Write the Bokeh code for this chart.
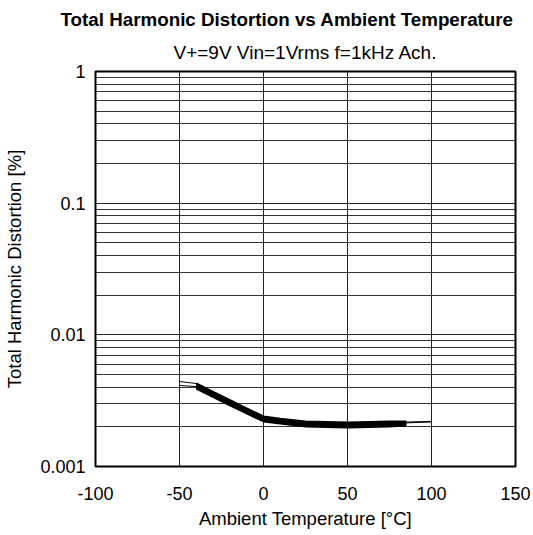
from bokeh.plotting import figure
from bokeh.models import Range1d, FixedTicker, CustomJSTickFormatter, Title
from bokeh.embed import file_html
from bokeh.resources import INLINE

# ---- data ----
title_text = "Total Harmonic Distortion vs Ambient Temperature"
subtitle_text = "V+=9V Vin=1Vrms f=1kHz Ach."
x_label = "Ambient Temperature [°C]"
y_label = "Total Harmonic Distortion [%]"

x_ticks = [-100, -50, 0, 50, 100, 150]
x_tick_labels = ["-100", "-50", "0", "50", "100", "150"]
y_ticks = [0.001, 0.01, 0.1, 1]
y_tick_labels = ["0.001", "0.01", "0.1", "1"]
y_minor = [2e-3, 3e-3, 4e-3, 5e-3, 6e-3, 7e-3, 8e-3, 9e-3,
           2e-2, 3e-2, 4e-2, 5e-2, 6e-2, 7e-2, 8e-2, 9e-2,
           0.2, 0.3, 0.4, 0.5, 0.6, 0.7, 0.8, 0.9]

# long samples (-50 .. 100 °C)
temp_long = [-50, -40, -20, 0, 25, 50, 75, 100]
thd_long_1 = [0.00442, 0.00427, 0.00323, 0.00236, 0.00216, 0.00212, 0.00216, 0.00220]
thd_long_2 = [0.00412, 0.00405, 0.00301, 0.00227, 0.00212, 0.00208, 0.00212, 0.00218]

# short samples (-40 .. 85 °C)
temp_short = [-40, -20, 0, 10, 25, 50, 75, 85]
thd_short_1 = [0.00427, 0.00317, 0.00240, 0.00231, 0.00220, 0.00216, 0.00220, 0.00220]
thd_short_2 = [0.00419, 0.00312, 0.00236, 0.00227, 0.00216, 0.00212, 0.00216, 0.00216]
thd_short_3 = [0.00412, 0.00306, 0.00231, 0.00224, 0.00212, 0.00208, 0.00212, 0.00212]
thd_short_4 = [0.00405, 0.00301, 0.00227, 0.00220, 0.00208, 0.00205, 0.00208, 0.00212]
thd_short_5 = [0.00398, 0.00296, 0.00224, 0.00216, 0.00205, 0.00201, 0.00205, 0.00208]
thd_short_6 = [0.00391, 0.00291, 0.00220, 0.00212, 0.00201, 0.00198, 0.00201, 0.00205]

FONT = "Liberation Sans"

p = figure(width=533, height=535, y_axis_type="log",
           x_range=Range1d(-100, 150), y_range=Range1d(0.001, 1),
           output_backend="svg", toolbar_location=None,
           min_border_left=95, min_border_right=18,
           min_border_top=71, min_border_bottom=69)

# main title = figure title (outer), subtitle added (closer to the frame)
p.title.text = title_text
p.title.align = "left"
p.title.offset = -35
p.title.text_font = FONT
p.title.text_font_size = "18.8px"
p.title.text_font_style = "bold"
p.title.text_color = "black"
p.title.standoff = 1
subtitle = Title(text=subtitle_text, align="center", text_font=FONT,
                 text_font_size="19px", text_font_style="normal",
                 text_color="black", standoff=18)
p.add_layout(subtitle, "above")

p.outline_line_color = "black"
p.outline_line_width = 2
p.background_fill_color = "white"
p.border_fill_color = "white"

# axes
p.xaxis.ticker = FixedTicker(ticks=x_ticks)
p.xaxis.formatter = CustomJSTickFormatter(
    args=dict(vals=x_ticks, labs=x_tick_labels),
    code="""
    for (let i = 0; i < vals.length; i++) {
        if (Math.abs(tick - vals[i]) < 1e-9) return labs[i];
    }
    return tick.toString();
    """)
p.yaxis.ticker = FixedTicker(ticks=y_ticks, minor_ticks=y_minor)
p.yaxis.formatter = CustomJSTickFormatter(
    args=dict(vals=y_ticks, labs=y_tick_labels),
    code="""
    for (let i = 0; i < vals.length; i++) {
        if (Math.abs(Math.log10(tick) - Math.log10(vals[i])) < 1e-6) return labs[i];
    }
    return tick.toString();
    """)
for ax in (p.xaxis[0], p.yaxis[0]):
    ax.axis_line_color = None
    ax.major_tick_line_color = None
    ax.minor_tick_line_color = None
    ax.major_tick_out = 0
    ax.major_tick_in = 0
    ax.minor_tick_out = 0
    ax.minor_tick_in = 0
    ax.major_label_text_font = FONT
    ax.major_label_text_font_size = "18px"
    ax.major_label_text_color = "black"
    ax.axis_label_text_font = FONT
    ax.axis_label_text_font_size = "18.5px"
    ax.axis_label_text_font_style = "normal"
    ax.axis_label_text_color = "black"

p.xaxis.axis_label = x_label
p.yaxis.axis_label = y_label
p.xaxis.major_label_standoff = 20
p.yaxis.major_label_standoff = 10
p.xaxis.axis_label_standoff = 5
p.yaxis.axis_label_standoff = 12

# grid
p.xgrid.ticker = FixedTicker(ticks=x_ticks)
p.xgrid.grid_line_color = "#222222"
p.xgrid.grid_line_width = 1
p.ygrid.grid_line_color = "#222222"
p.ygrid.grid_line_width = 1
p.ygrid.minor_grid_line_color = "#333333"
p.ygrid.minor_grid_line_width = 1

# curves
for ys in (thd_short_1, thd_short_2, thd_short_3, thd_short_4, thd_short_5, thd_short_6):
    p.line(temp_short, ys, line_color="black", line_width=2)
for ys in (thd_long_1, thd_long_2):
    p.line(temp_long, ys, line_color="black", line_width=1)

open("out.html", "w").write(file_html(p, INLINE))
